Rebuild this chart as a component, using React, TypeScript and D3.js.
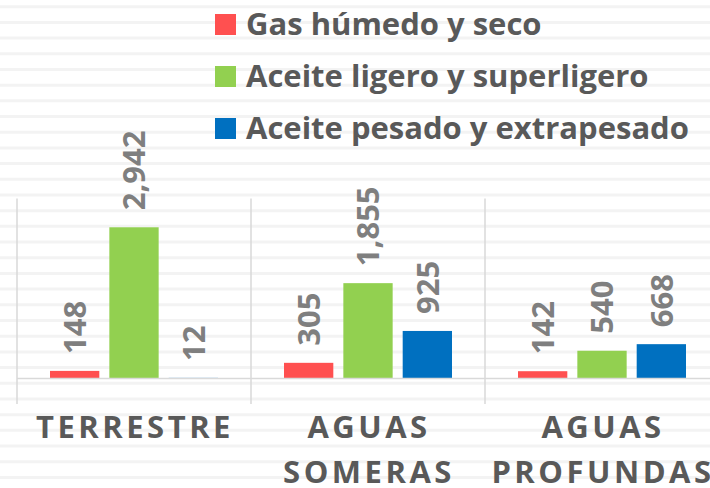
import React from "react";
import * as d3 from "d3";

const categories = ["TERRESTRE", "AGUAS SOMERAS", "AGUAS PROFUNDAS"];
const seriesNames = [
  "Gas húmedo y seco",
  "Aceite ligero y superligero",
  "Aceite pesado y extrapesado",
];
const seriesColors = ["#FF5050", "#92D050", "#0070C0"];
const gasValues = [148, 305, 142];
const ligeroValues = [2942, 1855, 540];
const pesadoValues = [12, 925, 668];

const width = 710;
const height = 488;
const FONT = "'Open Sans', Lato, sans-serif";

const App = () => {
  const seriesValues = [gasValues, ligeroValues, pesadoValues];

  // category bands, one per group, separators on band edges
  const x = d3.scaleBand().domain(categories).range([17, 719]).padding(0);
  const bw = x.bandwidth();
  const inner = d3
    .scaleBand()
    .domain(seriesNames)
    .range([33, bw - 33])
    .paddingInner(0.169)
    .paddingOuter(0);
  const y = d3.scaleLinear().domain([0, 3500]).range([378.5, 198.6]);

  const fmt = d3.format(",");
  const stripes = d3.range(6.7, height, 15.69);

  return (
    <div style={{ position: "absolute", left: 0, top: 0 }}>
      <svg width={width} height={height} style={{ display: "block", background: "#fff" }}>
        {/* faint background stripes */}
        {stripes.map((s, i) => (
          <line key={i} x1={0} x2={width} y1={s} y2={s} stroke="#f3f3f3" strokeWidth={3} />
        ))}

        {/* category separators */}
        {[...categories.map((c) => x(c)), 719].map((v, i) => (
          <line key={i} x1={v} x2={v} y1={y(3500)} y2={404} stroke="#d9d9d9" strokeWidth={1.5} />
        ))}

        {/* bars */}
        {categories.map((c, ci) =>
          seriesNames.map((s, si) => {
            const v = seriesValues[si][ci];
            const bx = x(c) + inner(s);
            const cx = bx + inner.bandwidth() / 2;
            return (
              <g key={c + s}>
                <rect
                  x={bx}
                  y={y(v)}
                  width={inner.bandwidth()}
                  height={y(0) - y(v)}
                  fill={seriesColors[si]}
                />
                <text
                  transform={`translate(${cx},${y(v) - 17}) rotate(-90)`}
                  dy="0.36em"
                  fontFamily={FONT}
                  fontWeight="bold"
                  fontSize={31}
                  fill="#7f7f7f"
                >
                  {fmt(v)}
                </text>
              </g>
            );
          })
        )}

        {/* axis line */}
        <line x1={17} x2={width} y1={y(0)} y2={y(0)} stroke="#d9d9d9" strokeWidth={1.5} />

        {/* category labels */}
        {categories.map((c) => {
          const words = c.split(" ");
          const lines = words.length > 1 ? words : [c];
          const cx = x(c) + bw / 2 + 1;
          return (
            <text
              key={c}
              x={cx}
              y={437.5}
              textAnchor="middle"
              fontFamily={FONT}
              fontWeight="bold"
              fontSize={31}
              letterSpacing={3.5}
              fill="#595959"
            >
              {lines.map((l, i) => (
                <tspan key={l} x={cx} dy={i === 0 ? 0 : 45}>
                  {l}
                </tspan>
              ))}
            </text>
          );
        })}

        {/* legend */}
        {seriesNames.map((s, i) => (
          <g key={s} transform={`translate(215,${14 + i * 52})`}>
            <rect width={21} height={21} fill={seriesColors[i]} />
            <text x={31} y={21} fontFamily={FONT} fontWeight="bold" fontSize={31} fill="#595959">
              {s}
            </text>
          </g>
        ))}
      </svg>
    </div>
  );
};

export default App;
